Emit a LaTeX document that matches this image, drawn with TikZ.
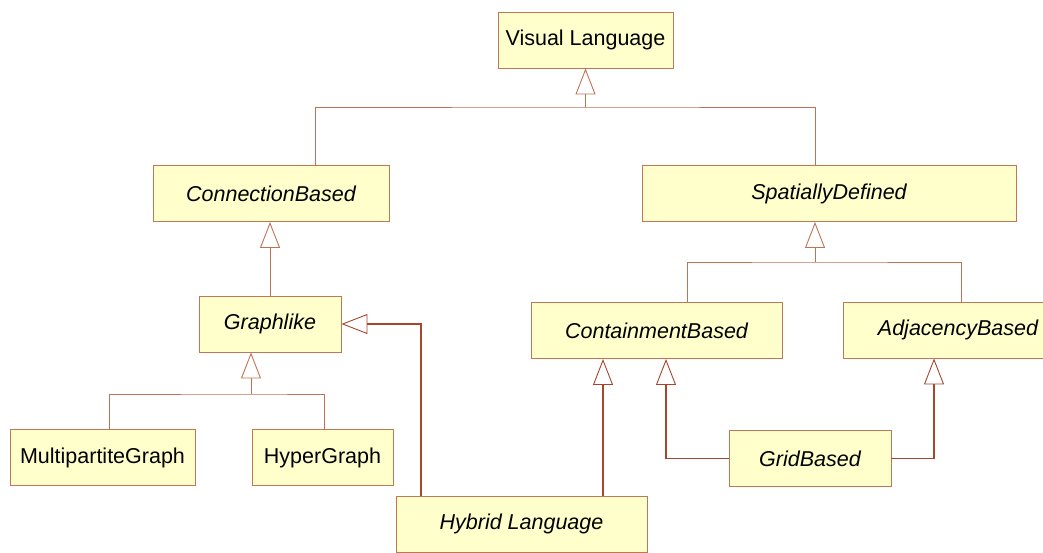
\documentclass[tikz,border=0pt]{standalone}
\usepackage{fontspec}
\setmainfont{Liberation Sans}
\usepackage{xcolor}
\usetikzlibrary{arrows.meta}
\definecolor{boxfill}{RGB}{255,255,204}
\definecolor{boxline}{RGB}{190,120,85}
\definecolor{genline}{RGB}{190,115,85}
\definecolor{genthick}{RGB}{165,70,45}

\begin{document}
\begin{tikzpicture}[x=1pt, y=-1pt, >={Triangle[open,length=26pt,width=20pt,line width=0.9pt]}]
        \tikzstyle{cls}=[draw=boxline, fill=boxfill, line width=0.9pt, minimum height=56pt, inner sep=0pt, font=\fontsize{21.5}{26}\selectfont]
        \tikzstyle{abstr}=[cls, font=\fontsize{21.5}{26}\selectfont\itshape]
        \tikzstyle{gen}=[->, draw=genline, line width=0.9pt]
        \tikzstyle{genb}=[->, draw=genthick, line width=1.6pt]
        \useasboundingbox (0,0) rectangle (1043,552);
        \node[cls, minimum width=175pt] (vl) at (585.5,40) {Visual Language};
        \node[abstr, minimum width=236pt] (cb) at (271,193.5) {ConnectionBased};
        \node[abstr, minimum width=374pt] (sd) at (829,193.5) {SpatiallyDefined};
        \node[abstr, minimum width=142pt] (gl) at (270,324) {Graphlike};
        \node[cls, minimum width=185pt] (mp) at (102.5,457.5) {MultipartiteGraph};
        \node[cls, minimum width=141pt] (hg) at (322.5,457.5) {HyperGraph};
        \node[abstr, minimum width=251pt] (ctb) at (656.5,330.5) {ContainmentBased};
        \node[abstr, minimum width=230pt] (ab) at (958,330) {AdjacencyBased};
        \node[abstr, minimum width=162pt] (gb) at (810,458.5) {GridBased};
        \node[abstr, minimum width=251pt] (hl) at (521.5,524) {Hybrid Language};
        % generalization buses
        \coordinate (vlbus) at (vl.south |- 0,107);
        \coordinate (sdbus) at ([xshift=-14pt]sd.south |- 0,262);
        \coordinate (glbus) at ([xshift=-19pt]gl.south |- 0,394);
        \draw[draw=genline, line width=0.9pt] ([xshift=44pt]cb.north) |- (vlbus) -| ([xshift=-14pt]sd.north);
        \draw[gen] (vlbus) -- (vl.south);
        \draw[gen] (gl.north) -- (gl.north |- cb.south);
        \draw[draw=genline, line width=0.9pt] ([xshift=30.5pt]ctb.north) |- (sdbus) -| ([xshift=3pt]ab.north);
        \draw[gen] (sdbus) -- (sdbus |- sd.south);
        \draw[draw=genline, line width=0.9pt] ([xshift=6.5pt]mp.north) |- (glbus) -| ([xshift=1.5pt]hg.north);
        \draw[gen] (glbus) -- (glbus |- gl.south);
        % multiple inheritance
        \draw[genb] ([xshift=-100.5pt]hl.north) |- (gl.east);
        \draw[genb] ([xshift=81.5pt]hl.north) -- ([xshift=81.5pt]hl.north |- ctb.south);
        \draw[genb] (gb.west) -| ([xshift=9.5pt]ctb.south);
        \draw[genb] (gb.east) -| ([xshift=-24pt]ab.south);
\end{tikzpicture}
\end{document}
